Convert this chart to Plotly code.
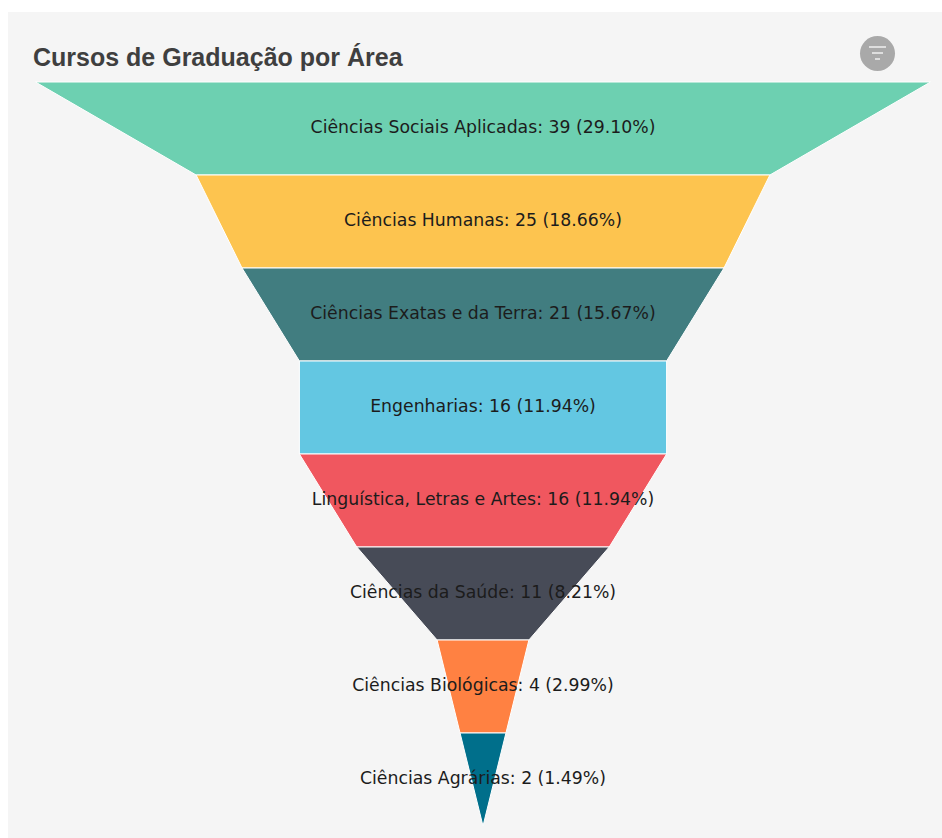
import plotly.graph_objects as go

title = "Cursos de Graduação por Área"
categories = ["Ciências Sociais Aplicadas", "Ciências Humanas", "Ciências Exatas e da Terra",
              "Engenharias", "Linguística, Letras e Artes", "Ciências da Saúde",
              "Ciências Biológicas", "Ciências Agrárias"]
values = [39, 25, 21, 16, 16, 11, 4, 2]
colors = ["#6dd0b1", "#fdc44f", "#417d80", "#63c7e2", "#f0575f", "#474b57", "#ff8142", "#006f8b"]

W, H = 942, 838
total = sum(values)
n = len(values)
next_values = values[1:] + [0]

fig = go.Figure()
for i, (cat, v, nv, c) in enumerate(zip(categories, values, next_values, colors)):
    fig.add_trace(go.Scatter(
        x=[-v / 2, v / 2, nv / 2, -nv / 2, -v / 2],
        y=[i, i, i + 1, i + 1, i],
        mode="lines", fill="toself", fillcolor=c,
        line=dict(color="#ffffff", width=1),
        hoverinfo="text", text=f"{cat}: {v}", showlegend=False,
    ))

fig.add_trace(go.Scatter(
    x=[0] * n,
    y=[i + 0.5 for i in range(n)],
    mode="text",
    text=[f"{c}: {v} ({v / total * 100:.2f}%)" for c, v in zip(categories, values)],
    textposition="middle center",
    textfont=dict(family="DejaVu Sans, Open Sans, sans-serif", size=17.3, color="#1c1c1c"),
    hoverinfo="skip", showlegend=False,
))

# Plot area: centre x=483, 22.95 px per unit, funnel top at y=82, 93 px per row
px_per_unit = 22.95
row_px = 93
cx = 483
left = 8
fig.update_layout(
    width=W, height=H,
    margin=dict(l=0, r=0, t=0, b=0, autoexpand=False),
    paper_bgcolor="#ffffff", plot_bgcolor="rgba(0,0,0,0)",
    xaxis=dict(visible=False, range=[-cx / px_per_unit, (W - cx) / px_per_unit], domain=[0, 1], fixedrange=True),
    yaxis=dict(visible=False, range=[(H - 82) / row_px, -82 / row_px], domain=[0, 1], fixedrange=True),
    title=dict(text=f"<b>{title}</b>", x=33 / W, xanchor="left", y=1 - 57 / H, yanchor="middle",
               font=dict(family="Liberation Sans, Arial, sans-serif", size=25, color="#3f3f3f")),
    shapes=[
        dict(type="rect", xref="paper", yref="paper", layer="below",
             x0=left / W, x1=1, y0=0, y1=1 - 12 / H, fillcolor="#f5f5f5", line_width=0),
        dict(type="circle", xref="paper", yref="paper", x0=860 / W, x1=895 / W,
             y0=1 - 71 / H, y1=1 - 36 / H, fillcolor="#a9a9a9", line_width=0),
        dict(type="line", xref="paper", yref="paper", x0=869 / W, x1=886 / W,
             y0=1 - 47 / H, y1=1 - 47 / H, line=dict(color="#dedede", width=2)),
        dict(type="line", xref="paper", yref="paper", x0=872 / W, x1=883 / W,
             y0=1 - 53 / H, y1=1 - 53 / H, line=dict(color="#dedede", width=2)),
        dict(type="line", xref="paper", yref="paper", x0=875 / W, x1=880 / W,
             y0=1 - 59 / H, y1=1 - 59 / H, line=dict(color="#dedede", width=2)),
    ],
)
fig.write_html("out.html", config={"displayModeBar": False},
               post_script="document.body.style.margin='0';document.documentElement.style.overflow='hidden';")
